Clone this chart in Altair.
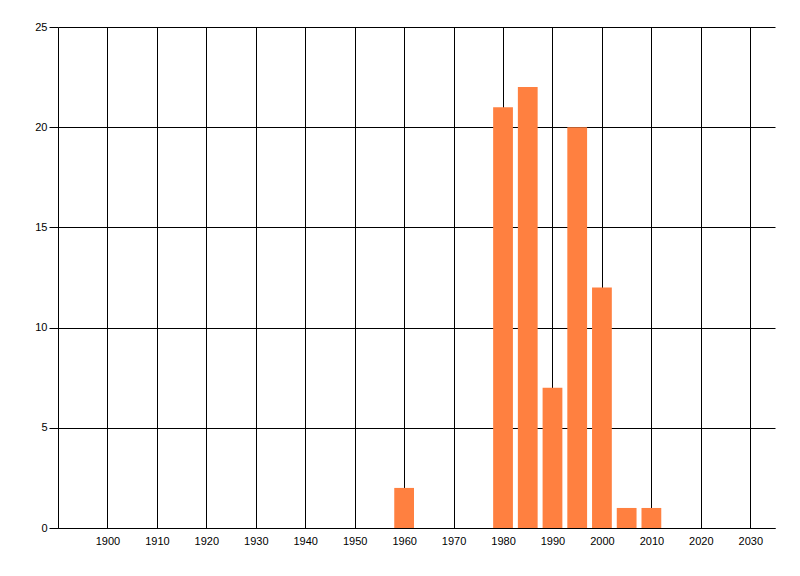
import altair as alt
import pandas as pd

years = [1960, 1980, 1985, 1990, 1995, 2000, 2005, 2010]
counts = [2, 21, 22, 7, 20, 12, 1, 1]
x_ticks = list(range(1900, 2031, 10))
y_ticks = [0, 5, 10, 15, 20, 25]

df = pd.DataFrame({"year": years, "count": counts})
df["x0"] = df["year"] - 2
df["x1"] = df["year"] + 2

font = "Liberation Sans"

bars = alt.Chart(df).mark_bar(color="#FF8040").encode(
    x=alt.X("x0:Q",
            scale=alt.Scale(domain=[1890, 2035], nice=False, zero=False),
            axis=alt.Axis(values=x_ticks, format="d", title=None, grid=True,
                          gridColor="black", gridOpacity=1, gridWidth=1,
                          domainColor="black", domainWidth=1, ticks=False,
                          labelPadding=7, labelColor="black", labelFontSize=11,
                          labelFont=font)),
    x2="x1:Q",
    y=alt.Y("count:Q",
            scale=alt.Scale(domain=[0, 25], nice=False),
            axis=alt.Axis(values=y_ticks, title=None, grid=True,
                          gridColor="black", gridOpacity=1, gridWidth=1,
                          domainColor="black", domainWidth=1,
                          tickColor="black", tickSize=9, labelPadding=2,
                          labelColor="black", labelFontSize=11, labelFont=font)),
    y2=alt.datum(0),
)

chart = bars.properties(
    width=717,
    height=501,
    autosize=alt.AutoSizeParams(type="none"),
    padding={"left": 50, "top": 19, "right": 10, "bottom": 30},
).configure(background="white").configure_view(strokeWidth=0, stroke="transparent")

chart.save("out.html", embed_options={"renderer": "svg", "actions": False})
